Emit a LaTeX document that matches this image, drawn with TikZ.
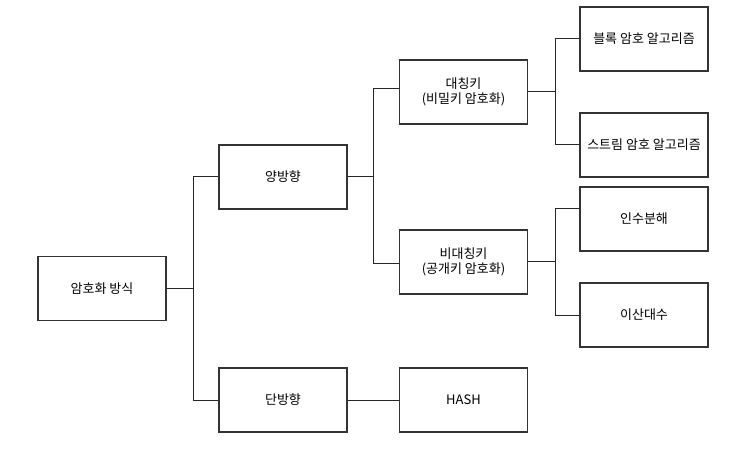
\documentclass[tikz,border=0pt]{standalone}
\usepackage{fontspec}
\setmainfont{Noto Sans CJK KR}
\begin{document}
\begin{tikzpicture}[x=1pt,y=-1pt,
    box/.style={draw=black!80,line width=1.1pt,minimum width=128,minimum height=64,
        align=center,font=\fontsize{13}{15.7}\selectfont},
    link/.style={draw=black!85,line width=1pt}]
    \useasboundingbox (0,0) rectangle (733,454);
    \node[box] (root) at (102,288.5) {암호화 방식};
    \node[box] (twoway) at (283,177) {양방향};
    \node[box] (oneway) at (283,400) {단방향};
    \node[box] (sym) at (463.5,92) {대칭키\\(비밀키 암호화)};
    \node[box] (asym) at (463.5,262) {비대칭키\\(공개키 암호화)};
    \node[box] (hash) at (463.5,400) {HASH};
    \node[box] (block) at (644,39) {블록 암호 알고리즘};
    \node[box] (stream) at (644,145) {스트림 암호 알고리즘};
    \node[box] (factor) at (644,219) {인수분해};
    \node[box] (dlog) at (644,315) {이산대수};
    \draw[link] (root.east) -- ++(27,0) |- (twoway.west);
    \draw[link] (root.east) -- ++(27,0) |- (oneway.west);
    \draw[link] (twoway.east) -- ++(26,0) |- ([yshift=3pt]sym.west);
    \draw[link] (twoway.east) -- ++(26,0) |- ([yshift=-2pt]asym.west);
    \draw[link] (sym.east) -- ++(27,0) |- (block.west);
    \draw[link] (sym.east) -- ++(27,0) |- (stream.west);
    \draw[link] (asym.east) -- ++(27,0) |- ([yshift=10pt]factor.west);
    \draw[link] (asym.east) -- ++(27,0) |- (dlog.west);
    \draw[link] (oneway.east) -- (hash.west);
\end{tikzpicture}
\end{document}
